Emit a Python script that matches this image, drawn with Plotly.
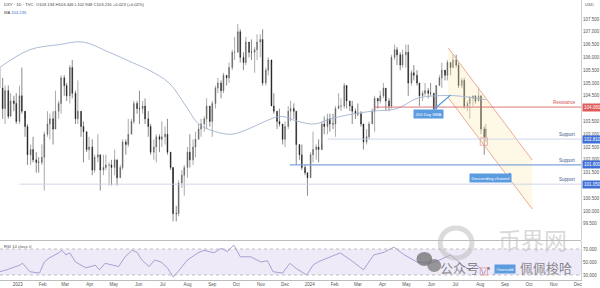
import pandas as pd
import plotly.graph_objects as go

# ---------------- data ----------------
first_open = 105.1
# two candles per week (Tue, Fri); last pair ends Thu 2024-08-08
closes = [
    105.6, 104.8, 104.0, 104.7, 103.7, 104.3, 104.2, 103.5,
    104.5, 103.9, 103.3, 102.2, 102.4, 102.0, 101.9, 101.9,
    102.1, 103.0, 103.4, 103.6, 103.2, 103.9, 104.2, 105.2,
    104.9, 104.5, 105.6, 104.6, 103.6, 103.9, 103.3, 103.1,
    102.4, 102.5, 101.6, 102.1, 102.2, 101.6, 101.7, 101.8,
    101.8, 101.7, 102.0, 101.3, 101.7, 102.7, 102.6, 103.0,
    103.5, 104.2, 104.0, 104.0, 104.1, 103.6, 103.3, 102.3,
    102.5, 102.9, 102.8, 102.9, 103.0, 102.3, 101.7, 99.9,
    99.9, 101.1, 101.4, 101.7, 102.3, 102.0, 102.5, 102.8,
    103.2, 103.4, 103.6, 104.1, 103.5, 104.2, 104.8, 105.0,
    104.7, 105.3, 105.2, 105.6, 106.2, 106.2, 107.0, 106.0,
    105.8, 106.6, 106.2, 106.2, 106.3, 106.6, 106.7, 105.0,
    105.5, 105.9, 104.1, 103.9, 103.5, 103.4, 102.8, 103.3,
    103.9, 104.0, 103.9, 102.6, 102.2, 101.7, 101.5, 101.3,
    102.2, 102.4, 102.5, 102.4, 103.4, 103.3, 103.6, 103.4,
    103.4, 104.0, 104.1, 104.1, 104.9, 104.3, 104.1, 103.9,
    103.8, 103.8, 103.4, 102.7, 102.9, 103.4, 103.9, 104.4,
    104.3, 104.5, 104.8, 104.3, 104.1, 106.0, 106.3, 106.1,
    105.7, 106.1, 106.2, 105.0, 105.4, 105.3, 105.0, 104.5,
    104.6, 104.7, 104.6, 104.6, 104.0, 104.9, 105.2, 105.5,
    105.3, 105.8, 105.6, 105.9, 105.7, 104.9, 105.1, 104.1,
    104.2, 104.4, 104.5, 104.3, 104.5, 103.2, 102.9, 103.2,
]
highs = [
    105.7, 105.6, 105.2, 104.9, 104.9, 104.6, 104.5, 104.6,
    104.9, 105.6, 103.6, 103.4, 102.6, 102.9, 102.3, 102.1,
    102.6, 103.1, 103.9, 103.8, 103.9, 104.7, 104.3, 105.3,
    105.3, 105.0, 105.7, 105.9, 104.7, 105.1, 103.9, 103.5,
    103.1, 102.9, 102.8, 102.2, 103.0, 102.2, 102.2, 102.2,
    101.9, 102.0, 102.4, 102.0, 101.8, 102.8, 102.8, 103.6,
    103.6, 104.3, 104.3, 104.7, 104.3, 104.4, 103.9, 103.4,
    102.8, 103.0, 103.0, 103.5, 103.3, 103.6, 102.3, 101.0,
    100.2, 101.2, 101.6, 101.8, 102.5, 103.0, 102.8, 103.1,
    103.4, 103.6, 103.7, 104.4, 104.1, 104.3, 104.9, 105.2,
    105.1, 105.4, 105.3, 105.8, 106.3, 106.8, 107.3, 107.1,
    106.2, 106.8, 106.6, 106.7, 106.4, 106.9, 106.9, 107.1,
    105.6, 106.0, 105.8, 104.6, 103.9, 104.0, 103.4, 103.5,
    104.1, 104.3, 104.2, 103.9, 102.6, 102.6, 101.8, 101.5,
    102.3, 103.1, 102.6, 102.8, 103.5, 103.7, 103.8, 103.8,
    103.8, 104.1, 104.6, 104.4, 105.0, 104.8, 104.3, 104.3,
    104.0, 104.2, 103.9, 103.3, 103.2, 103.5, 104.0, 104.5,
    104.4, 104.7, 105.0, 104.8, 104.4, 106.1, 106.5, 106.4,
    106.2, 106.3, 106.5, 106.5, 105.5, 105.7, 105.5, 105.0,
    104.7, 105.0, 104.8, 105.0, 104.6, 104.9, 105.3, 105.8,
    105.4, 105.9, 105.8, 106.1, 106.1, 105.8, 105.2, 105.2,
    104.3, 104.5, 104.5, 104.5, 104.8, 104.5, 103.3, 103.4,
]
lows = [
    104.9, 104.4, 103.6, 103.4, 103.6, 103.7, 103.9, 103.4,
    103.4, 103.8, 102.9, 101.8, 101.8, 101.9, 101.5, 101.5,
    101.8, 100.8, 102.9, 102.8, 102.6, 103.2, 103.6, 103.8,
    104.5, 104.3, 104.2, 104.4, 103.4, 103.4, 102.9, 101.9,
    102.3, 102.0, 101.4, 101.5, 101.9, 100.8, 101.4, 101.6,
    101.0, 101.0, 101.4, 101.0, 101.3, 101.6, 102.2, 102.5,
    103.0, 103.4, 103.8, 103.4, 103.8, 103.4, 102.9, 102.2,
    102.0, 101.9, 102.3, 102.5, 102.6, 102.2, 101.6, 99.6,
    99.6, 99.8, 100.9, 100.6, 101.3, 101.7, 101.8, 102.1,
    102.8, 102.9, 103.1, 103.2, 103.3, 102.9, 104.0, 104.6,
    104.4, 104.6, 104.9, 105.0, 105.5, 105.9, 106.2, 105.8,
    105.5, 105.7, 106.0, 105.9, 105.4, 105.9, 106.0, 104.9,
    104.9, 105.3, 104.1, 103.8, 103.2, 103.3, 102.6, 102.5,
    103.2, 103.5, 103.6, 101.8, 102.0, 101.6, 101.4, 100.6,
    101.3, 101.9, 102.0, 101.9, 102.6, 103.0, 103.0, 103.1,
    103.2, 102.9, 104.0, 103.9, 104.0, 104.0, 103.9, 103.4,
    103.6, 103.7, 103.3, 102.4, 102.6, 102.8, 103.4, 103.1,
    104.0, 104.2, 104.4, 103.9, 103.9, 104.0, 105.9, 105.7,
    105.5, 105.6, 105.6, 104.5, 104.9, 105.1, 104.9, 104.1,
    104.3, 104.5, 104.4, 104.5, 103.9, 103.9, 104.9, 104.8,
    105.1, 105.1, 105.3, 105.6, 105.6, 104.8, 104.8, 104.0,
    103.9, 103.6, 104.1, 104.2, 104.3, 103.0, 102.2, 102.7,
]

sma_dates = ["2022-12-09", "2023-01-16", "2023-02-22", "2023-03-23", "2023-04-25",
             "2023-05-24", "2023-06-14", "2023-07-09", "2023-07-30", "2023-08-15",
             "2023-09-05", "2023-09-25", "2023-10-16", "2023-11-06", "2023-11-26",
             "2023-12-17", "2024-01-07", "2024-01-27", "2024-02-17", "2024-03-19",
             "2024-04-19", "2024-05-14", "2024-06-08", "2024-07-02", "2024-08-08"]
sma_vals = [105.6, 106.3, 106.5, 106.6, 106.2, 105.8, 105.5, 105.0, 104.1, 103.4,
            103.1, 103.0, 103.2, 103.5, 103.7, 103.5, 103.4, 103.6, 103.75, 103.9,
            104.0, 104.4, 104.5, 104.5, 104.35]

rsi_dates = ["2022-12-09", "2022-12-18", "2023-01-03", "2023-01-07", "2023-01-16",
             "2023-01-28", "2023-02-03", "2023-02-09", "2023-02-21", "2023-02-25",
             "2023-03-02", "2023-03-07", "2023-03-14", "2023-03-27", "2023-04-08",
             "2023-04-13", "2023-04-20", "2023-04-28", "2023-05-07", "2023-05-15",
             "2023-05-24", "2023-05-30", "2023-06-05", "2023-06-14", "2023-06-21",
             "2023-06-29", "2023-07-07", "2023-07-14", "2023-07-20", "2023-08-01",
             "2023-08-14", "2023-08-22", "2023-09-03", "2023-09-12", "2023-09-20",
             "2023-09-28", "2023-10-06", "2023-10-19", "2023-11-01", "2023-11-09",
             "2023-11-16", "2023-11-28", "2023-12-07", "2023-12-15", "2023-12-28",
             "2024-01-05", "2024-01-11", "2024-01-27", "2024-02-08", "2024-02-21",
             "2024-03-08", "2024-03-21", "2024-04-03", "2024-04-15", "2024-04-28",
             "2024-05-14", "2024-05-30", "2024-06-11", "2024-06-25", "2024-07-11",
             "2024-07-18", "2024-07-27", "2024-08-02", "2024-08-05", "2024-08-08"]
rsi_vals = [35, 38, 45, 48, 35, 33, 50, 56, 64, 68,
            61, 64, 50, 41, 45, 38, 48, 46, 43, 58,
            68, 65, 53, 43, 53, 50, 41, 27, 35, 53,
            64, 68, 64, 71, 66, 76, 58, 58, 50, 52,
            35, 33, 48, 40, 30, 45, 50, 58, 64, 53,
            38, 61, 65, 73, 61, 50, 48, 53, 61, 44,
            38, 45, 40, 30, 38]

chan_dates = ["2024-06-22", "2024-10-05"]
chan_upper = [106.37, 101.99]
chan_lower = [104.43, 100.08]

resistance = 104.06
support_1 = 102.81
support_2 = 101.80
support_3 = 101.05

month_ticks = pd.date_range("2023-01-01", "2024-12-01", freq="MS")
month_text = [("%d" % d.year) if d.month == 1 else d.strftime("%b") for d in month_ticks]
price_ticks = [99.5 + 0.5 * i for i in range(17)]

# ---------------- build ----------------
tues = pd.date_range("2022-12-06", "2024-08-06", freq="W-TUE")
fris = pd.date_range("2022-12-09", "2024-08-02", freq="W-FRI")
dates = []
for i, t in enumerate(tues):
    dates.append(t)
    dates.append(fris[i] if i < len(fris) else pd.Timestamp("2024-08-08"))
opens = [first_open] + closes[:-1]
n = min(len(dates), len(closes), len(highs), len(lows))

FONT = "Liberation Sans"
fig = go.Figure()

# descending channel fill
fig.add_trace(go.Scatter(
    x=[chan_dates[0], chan_dates[1], chan_dates[1], chan_dates[0], chan_dates[0]],
    y=[chan_upper[0], chan_upper[1], chan_lower[1], chan_lower[0], chan_upper[0]],
    fill="toself", fillcolor="rgba(252,236,180,0.33)", mode="none",
    hoverinfo="skip", showlegend=False, xaxis="x", yaxis="y"))

fig.add_trace(go.Candlestick(
    x=dates[:n], open=opens[:n], high=highs[:n], low=lows[:n], close=closes[:n],
    increasing=dict(line=dict(color="#555555", width=0.5), fillcolor="#6a6a6a"),
    decreasing=dict(line=dict(color="#151515", width=0.5), fillcolor="#151515"),
    whiskerwidth=0, showlegend=False, xaxis="x", yaxis="y"))

fig.add_trace(go.Scatter(x=sma_dates, y=sma_vals, mode="lines",
                         line=dict(color="#a2b4d0", width=0.9, shape="spline"),
                         showlegend=False, xaxis="x", yaxis="y"))

for ys in (chan_upper, chan_lower):
    fig.add_trace(go.Scatter(x=chan_dates, y=ys, mode="lines",
                             line=dict(color="#e9a08c", width=0.9),
                             showlegend=False, xaxis="x", yaxis="y"))

fig.add_trace(go.Scatter(x=rsi_dates, y=rsi_vals, mode="lines",
                         line=dict(color="#9a8cc8", width=0.8),
                         showlegend=False, xaxis="x", yaxis="y2"))

x_end = "2024-12-05"
shapes = [
    dict(type="line", xref="x", yref="y", x0="2024-03-21", x1=x_end,
         y0=resistance, y1=resistance, line=dict(color="#d66a6a", width=0.9)),
    dict(type="line", xref="x", yref="y", x0="2024-01-23", x1=x_end,
         y0=support_1, y1=support_1, line=dict(color="#c6d4ea", width=0.9)),
    dict(type="line", xref="x", yref="y", x0="2023-12-07", x1=x_end,
         y0=support_2, y1=support_2, line=dict(color="#7fa4dc", width=1.3)),
    dict(type="line", xref="x", yref="y", x0="2023-01-03", x1=x_end,
         y0=support_3, y1=support_3, line=dict(color="#c9d3e3", width=0.9)),
    dict(type="rect", xref="x", yref="y", x0="2024-08-01", x1="2024-08-10",
         y0=102.57, y1=102.86, line=dict(color="#e79a9a", width=0.8)),
    dict(type="rect", xref="paper", yref="y2", x0=0, x1=1, y0=30, y1=70,
         fillcolor="#efeaf8", line=dict(width=0), layer="below"),
    dict(type="line", xref="paper", yref="y2", x0=0, x1=1, y0=70, y1=70,
         line=dict(color="#a8a8a8", width=0.7, dash="dot")),
    dict(type="line", xref="paper", yref="y2", x0=0, x1=1, y0=30, y1=30,
         line=dict(color="#a8a8a8", width=0.7, dash="dot")),
    dict(type="rect", xref="x", yref="y2", x0="2024-08-01", x1="2024-08-10",
         y0=30, y1=41, line=dict(color="#e79a9a", width=0.8)),
    dict(type="line", xref="paper", yref="paper", x0=0, x1=1,
         y0=39.5 / 280, y1=39.5 / 280, line=dict(color="#bdbdbd", width=1)),
    # watermark logo rings
    dict(type="circle", xref="paper", yref="paper",
         x0=444 / 586, x1=476 / 586, y0=(280 - 258) / 280, y1=(280 - 228) / 280,
         line=dict(color="rgba(190,190,190,0.55)", width=5)),
    dict(type="circle", xref="paper", yref="paper",
         x0=420 / 586, x1=436 / 586, y0=(280 - 266) / 280, y1=(280 - 252) / 280,
         fillcolor="rgba(110,110,110,0.75)", line=dict(width=0)),
    dict(type="circle", xref="paper", yref="paper",
         x0=431 / 586, x1=445 / 586, y0=(280 - 272) / 280, y1=(280 - 259) / 280,
         fillcolor="rgba(120,120,120,0.75)", line=dict(width=0)),
]

def ylab(y, text, bg):
    return dict(xref="paper", yref="y", x=1.0, y=y, xanchor="left", yanchor="middle",
                text=text, showarrow=False, bgcolor=bg, borderpad=1,
                font=dict(size=4.5, color="white", family=FONT), xshift=1)

def ytxt(y, text, color):
    return dict(xref="paper", yref="y", x=0.995, y=y, xanchor="right", yanchor="bottom",
                text=text, showarrow=False, font=dict(size=4.5, color=color, family=FONT))

annotations = [
    dict(xref="paper", yref="paper", x=0.003, y=1.0, xanchor="left", yanchor="top",
         text="DXY · 1D · TVC  O103.194 H103.446 L102.948 C103.216 +0.023 (+0.02%)",
         showarrow=False, font=dict(size=4.2, color="#444", family=FONT)),
    dict(xref="paper", yref="paper", x=0.003, y=0.972, xanchor="left", yanchor="top",
         text="MA <span style='color:#3d6fd1'>104.235</span>",
         showarrow=False, font=dict(size=4.2, color="#444", family=FONT)),
    dict(xref="paper", yref="paper", x=1.0, y=1.0, xanchor="left", yanchor="top",
         text="USD", showarrow=False, xshift=2,
         font=dict(size=4.2, color="#555", family=FONT)),
    dict(xref="paper", yref="paper", x=0.003, y=38.5 / 280, xanchor="left", yanchor="top",
         text="RSI 14 close 0", showarrow=False,
         font=dict(size=4.2, color="#555", family=FONT)),
    ylab(resistance, "104.060", "#e05a5a"),
    ylab(support_1, "102.810", "#3f6fd8"),
    ylab(support_2, "101.800", "#3f6fd8"),
    ylab(support_3, "101.050", "#3f6fd8"),
    ytxt(resistance, "Resistance", "#d05050"),
    ytxt(support_1, "Support", "#3d5a8a"),
    ytxt(support_2, "Support", "#3d5a8a"),
    ytxt(support_3, "Support", "#3d5a8a"),
    dict(xref="x", yref="y", x="2024-06-25", y=104.53, ax=-22, ay=19,
         text="200 Day SMA", showarrow=True, arrowhead=0, arrowwidth=1.2,
         arrowcolor="#5b9be0", bgcolor="#5b9be0", borderpad=1.5,
         font=dict(size=4.2, color="white", family=FONT)),
    dict(xref="x", yref="y", x="2024-09-08", y=101.47, ax=-20, ay=5,
         text="Descending channel", showarrow=True, arrowhead=0, arrowwidth=1.2,
         arrowcolor="#5b9be0", bgcolor="#5b9be0", borderpad=1.5,
         font=dict(size=4.2, color="white", family=FONT)),
    dict(xref="x", yref="y2", x="2024-08-18", y=31, ax=11, ay=-5,
         text="Oversold", showarrow=True, arrowhead=0, arrowwidth=1.2,
         arrowcolor="#5b9be0", bgcolor="#5b9be0", borderpad=1.5,
         font=dict(size=4.2, color="white", family=FONT)),
    dict(xref="paper", yref="paper", x=537 / 586, y=(280 - 239) / 280,
         xanchor="center", yanchor="middle",
         text="币界网", showarrow=False,
         font=dict(size=23, color="rgba(185,185,185,0.55)", family="Noto Sans CJK SC")),
    dict(xref="paper", yref="paper", x=472 / 586, y=(280 - 267) / 280,
         xanchor="center", yanchor="middle",
         text="公众号 ·", showarrow=False,
         font=dict(size=13, color="rgba(100,100,100,0.75)", family="Noto Sans CJK SC")),
    dict(xref="paper", yref="paper", x=551 / 586, y=(280 - 267) / 280,
         xanchor="center", yanchor="middle",
         text="佩佩梭哈", showarrow=False,
         font=dict(size=13, color="rgba(100,100,100,0.75)", family="Noto Sans CJK SC")),
]

fig.update_layout(
    width=600, height=288,
    margin=dict(l=0, r=14, t=0, b=8),
    paper_bgcolor="white", plot_bgcolor="white",
    showlegend=False, shapes=shapes, annotations=annotations,
    xaxis=dict(type="date", range=["2022-12-09 16:00", "2024-12-05"],
               anchor="y2", rangeslider=dict(visible=False),
               tickvals=list(month_ticks), ticktext=month_text,
               tickfont=dict(size=4.5, color="#555", family=FONT),
               showgrid=False, zeroline=False, showline=True, linecolor="#bdbdbd",
               ticks=""),
    yaxis=dict(domain=[40 / 280, 1], range=[98.87, 108.24], side="right", anchor="x",
               tickvals=price_ticks, ticktext=["%.3f" % v for v in price_ticks],
               tickfont=dict(size=4.5, color="#555", family=FONT),
               showgrid=False, zeroline=False, showline=True, linecolor="#cfcfcf",
               ticks=""),
    yaxis2=dict(domain=[0, 39 / 280], range=[22.3, 82.3], side="right", anchor="x",
                tickvals=[70, 50, 30], ticktext=["70.000", "50.000", "30.000"],
                tickfont=dict(size=4.5, color="#555", family=FONT),
                showgrid=False, zeroline=False, showline=True, linecolor="#cfcfcf",
                ticks=""),
)

fig.write_html("out.html")
